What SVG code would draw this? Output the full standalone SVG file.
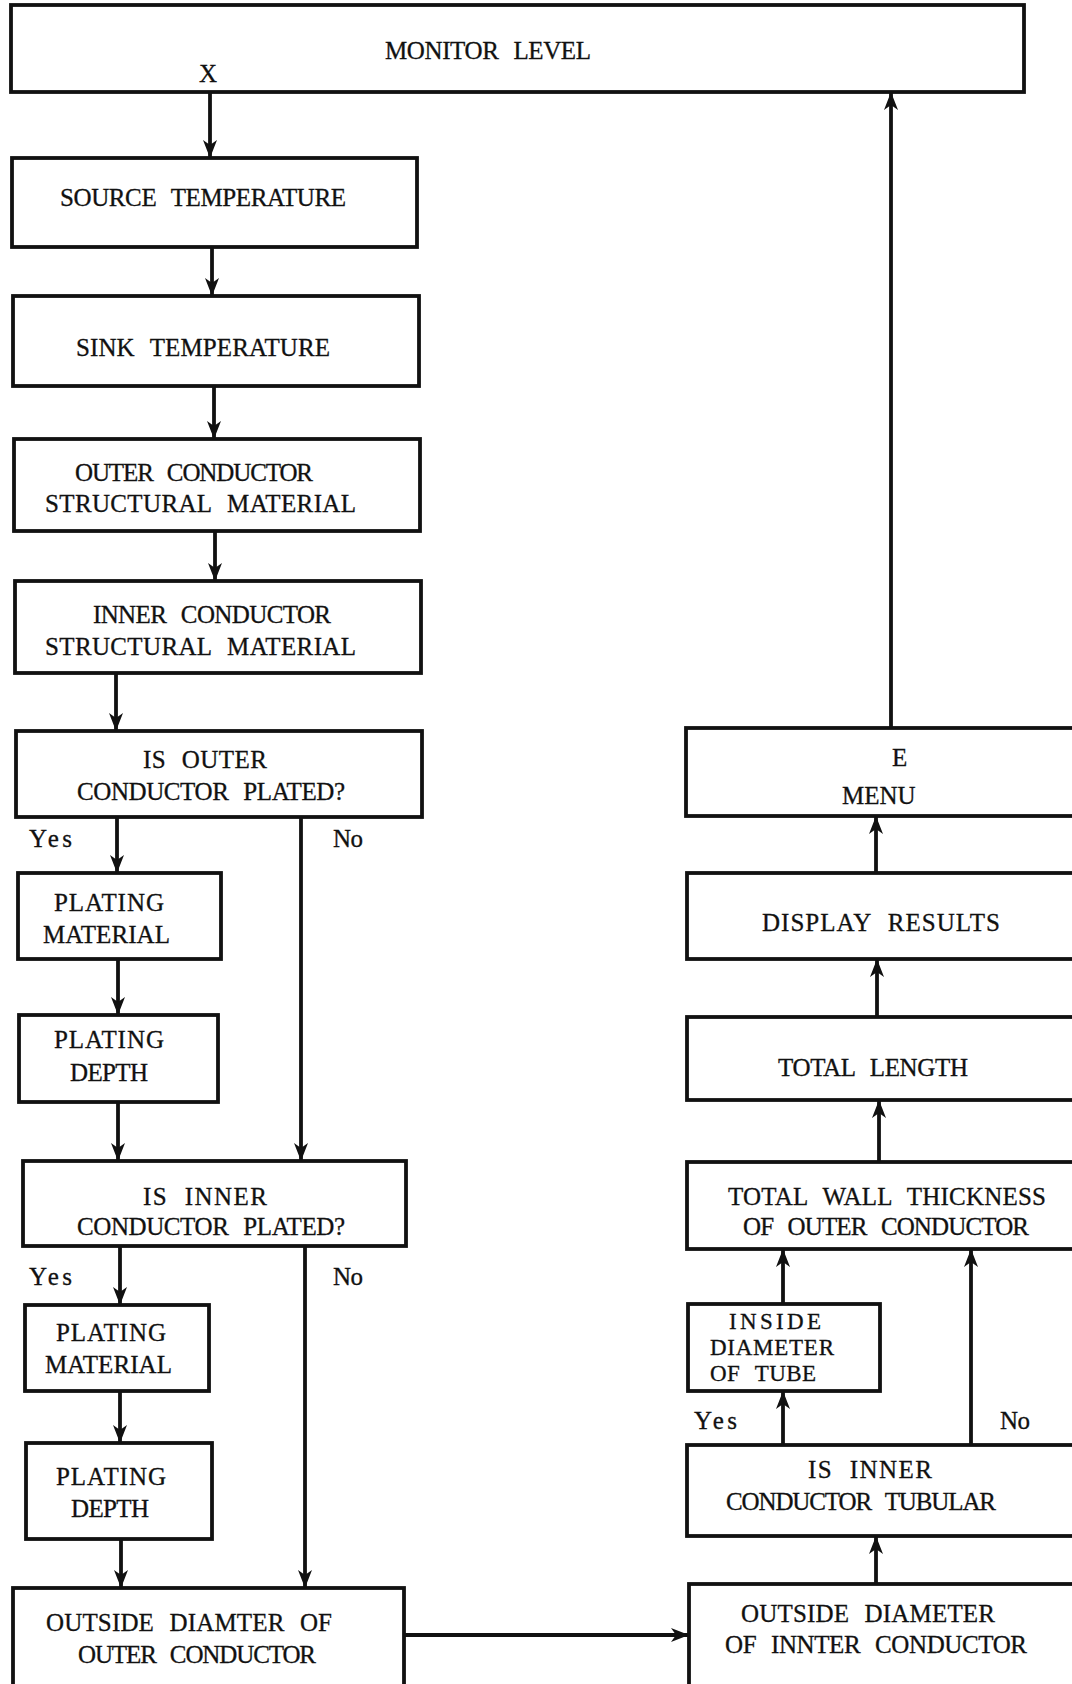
<svg xmlns="http://www.w3.org/2000/svg" width="1072" height="1684" viewBox="0 0 1072 1684">
<defs>
<style>
.box{fill:none;stroke:#111;stroke-width:3.8}
.ln{fill:none;stroke:#111;stroke-width:3.8}
text{font-family:"Liberation Serif","Times New Roman",serif;font-size:25px;word-spacing:9px;fill:#111;stroke:#111;stroke-width:0.3}
.sm{font-size:23px}
</style>
<marker id="ah" viewBox="0 0 18 14" refX="17" refY="7" markerWidth="18" markerHeight="14" markerUnits="userSpaceOnUse" orient="auto">
<path d="M0,0 L18,7 L0,14 L5,7 Z" fill="#111"/>
</marker>
</defs>
<rect width="1072" height="1684" fill="#fff"/>

<g id="monitor-level"><rect class="box" x="11" y="5" width="1013" height="87"/><text x="385" y="59" textLength="206" lengthAdjust="spacing">MONITOR LEVEL</text><text x="199" y="82">X</text></g>
<g id="source-temperature"><rect class="box" x="12" y="158" width="405" height="89"/><text x="60" y="206" textLength="286" lengthAdjust="spacing">SOURCE TEMPERATURE</text></g>
<g id="sink-temperature"><rect class="box" x="13" y="296" width="406" height="90"/><text x="76" y="356" textLength="254" lengthAdjust="spacing">SINK TEMPERATURE</text></g>
<g id="outer-structural"><rect class="box" x="14" y="439" width="406" height="92"/><text x="75" y="481" textLength="238" lengthAdjust="spacing">OUTER CONDUCTOR</text><text x="45" y="512" textLength="311" lengthAdjust="spacing">STRUCTURAL  MATERIAL</text></g>
<g id="inner-structural"><rect class="box" x="15" y="581" width="406" height="92"/><text x="93" y="623" textLength="238" lengthAdjust="spacing">INNER CONDUCTOR</text><text x="45" y="655" textLength="311" lengthAdjust="spacing">STRUCTURAL  MATERIAL</text></g>
<g id="outer-plated"><rect class="box" x="16" y="731" width="406" height="86"/><text x="143" y="768" textLength="124" lengthAdjust="spacing">IS OUTER</text><text x="77" y="800" textLength="268" lengthAdjust="spacing">CONDUCTOR PLATED?</text></g>
<g id="plating-material-1"><rect class="box" x="18" y="873" width="203" height="86"/><text x="54" y="911" textLength="110" lengthAdjust="spacing">PLATING</text><text x="43" y="943" textLength="127" lengthAdjust="spacing">MATERIAL</text></g>
<g id="plating-depth-1"><rect class="box" x="19" y="1015" width="199" height="87"/><text x="54" y="1048" textLength="110" lengthAdjust="spacing">PLATING</text><text x="70" y="1081" textLength="78" lengthAdjust="spacing">DEPTH</text></g>
<g id="inner-plated"><rect class="box" x="23" y="1161" width="383" height="85"/><text x="143" y="1205" textLength="124" lengthAdjust="spacing">IS INNER</text><text x="77" y="1235" textLength="268" lengthAdjust="spacing">CONDUCTOR PLATED?</text></g>
<g id="plating-material-2"><rect class="box" x="25" y="1305" width="184" height="86"/><text x="56" y="1341" textLength="110" lengthAdjust="spacing">PLATING</text><text x="45" y="1373" textLength="127" lengthAdjust="spacing">MATERIAL</text></g>
<g id="plating-depth-2"><rect class="box" x="26" y="1443" width="186" height="96"/><text x="56" y="1485" textLength="110" lengthAdjust="spacing">PLATING</text><text x="71" y="1517" textLength="78" lengthAdjust="spacing">DEPTH</text></g>
<g id="outside-diameter-outer"><rect class="box" x="13" y="1588" width="391" height="110"/><text x="46" y="1631" textLength="286" lengthAdjust="spacing">OUTSIDE DIAMTER OF</text><text x="78" y="1663" textLength="238" lengthAdjust="spacing">OUTER CONDUCTOR</text></g>

<g id="menu"><rect class="box" x="686" y="728" width="400" height="88"/><text x="892" y="766">E</text><text x="842" y="804">MENU</text></g>
<g id="display-results"><rect class="box" x="687" y="873" width="400" height="86"/><text x="762" y="931" textLength="238" lengthAdjust="spacing">DISPLAY RESULTS</text></g>
<g id="total-length"><rect class="box" x="687" y="1017" width="400" height="83"/><text x="778" y="1076" textLength="190" lengthAdjust="spacing">TOTAL LENGTH</text></g>
<g id="total-wall"><rect class="box" x="687" y="1162" width="400" height="87"/><text x="728" y="1205" textLength="318" lengthAdjust="spacing">TOTAL WALL THICKNESS</text><text x="743" y="1235" textLength="286" lengthAdjust="spacing">OF OUTER CONDUCTOR</text></g>
<g id="inside-diameter-tube"><rect class="box" x="688" y="1304" width="192" height="87"/><text class="sm" x="729" y="1329" textLength="92" lengthAdjust="spacing">INSIDE</text><text class="sm" x="710" y="1355" textLength="124" lengthAdjust="spacing">DIAMETER</text><text class="sm" x="710" y="1381" textLength="106" lengthAdjust="spacing">OF TUBE</text></g>
<g id="inner-tubular"><rect class="box" x="687" y="1445" width="400" height="91"/><text x="808" y="1478" textLength="124" lengthAdjust="spacing">IS INNER</text><text x="726" y="1510" textLength="270" lengthAdjust="spacing">CONDUCTOR TUBULAR</text></g>
<g id="outside-diameter-inner"><rect class="box" x="689" y="1584" width="400" height="110"/><text x="741" y="1622" textLength="254" lengthAdjust="spacing">OUTSIDE DIAMETER</text><text x="725" y="1653" textLength="302" lengthAdjust="spacing">OF INNTER CONDUCTOR</text></g>

<g id="labels">
<text x="29" y="847" textLength="43" lengthAdjust="spacing">Yes</text><text x="333" y="847" textLength="30" lengthAdjust="spacing">No</text>
<text x="29" y="1285" textLength="43" lengthAdjust="spacing">Yes</text><text x="333" y="1285" textLength="30" lengthAdjust="spacing">No</text>
<text x="694" y="1429" textLength="43" lengthAdjust="spacing">Yes</text><text x="1000" y="1429" textLength="30" lengthAdjust="spacing">No</text>
</g>

<g id="connectors">
<path class="ln" d="M210,92 V157" marker-end="url(#ah)"/>
<path class="ln" d="M212,247 V295" marker-end="url(#ah)"/>
<path class="ln" d="M214,386 V438" marker-end="url(#ah)"/>
<path class="ln" d="M215,531 V580" marker-end="url(#ah)"/>
<path class="ln" d="M116,673 V730" marker-end="url(#ah)"/>
<path class="ln" d="M117,817 V872" marker-end="url(#ah)"/>
<path class="ln" d="M118,959 V1014" marker-end="url(#ah)"/>
<path class="ln" d="M118,1102 V1160" marker-end="url(#ah)"/>
<path class="ln" d="M301,817 V1160" marker-end="url(#ah)"/>
<path class="ln" d="M120,1246 V1304" marker-end="url(#ah)"/>
<path class="ln" d="M120,1391 V1442" marker-end="url(#ah)"/>
<path class="ln" d="M121,1539 V1587" marker-end="url(#ah)"/>
<path class="ln" d="M305,1246 V1587" marker-end="url(#ah)"/>
<path class="ln" d="M404,1635 H688" marker-end="url(#ah)"/>
<path class="ln" d="M876,1584 V1537" marker-end="url(#ah)"/>
<path class="ln" d="M783,1445 V1392" marker-end="url(#ah)"/>
<path class="ln" d="M783,1304 V1250" marker-end="url(#ah)"/>
<path class="ln" d="M971,1445 V1250" marker-end="url(#ah)"/>
<path class="ln" d="M879,1162 V1101" marker-end="url(#ah)"/>
<path class="ln" d="M877,1017 V960" marker-end="url(#ah)"/>
<path class="ln" d="M876,873 V817" marker-end="url(#ah)"/>
<path class="ln" d="M891,728 V93" marker-end="url(#ah)"/>
</g>
</svg>
